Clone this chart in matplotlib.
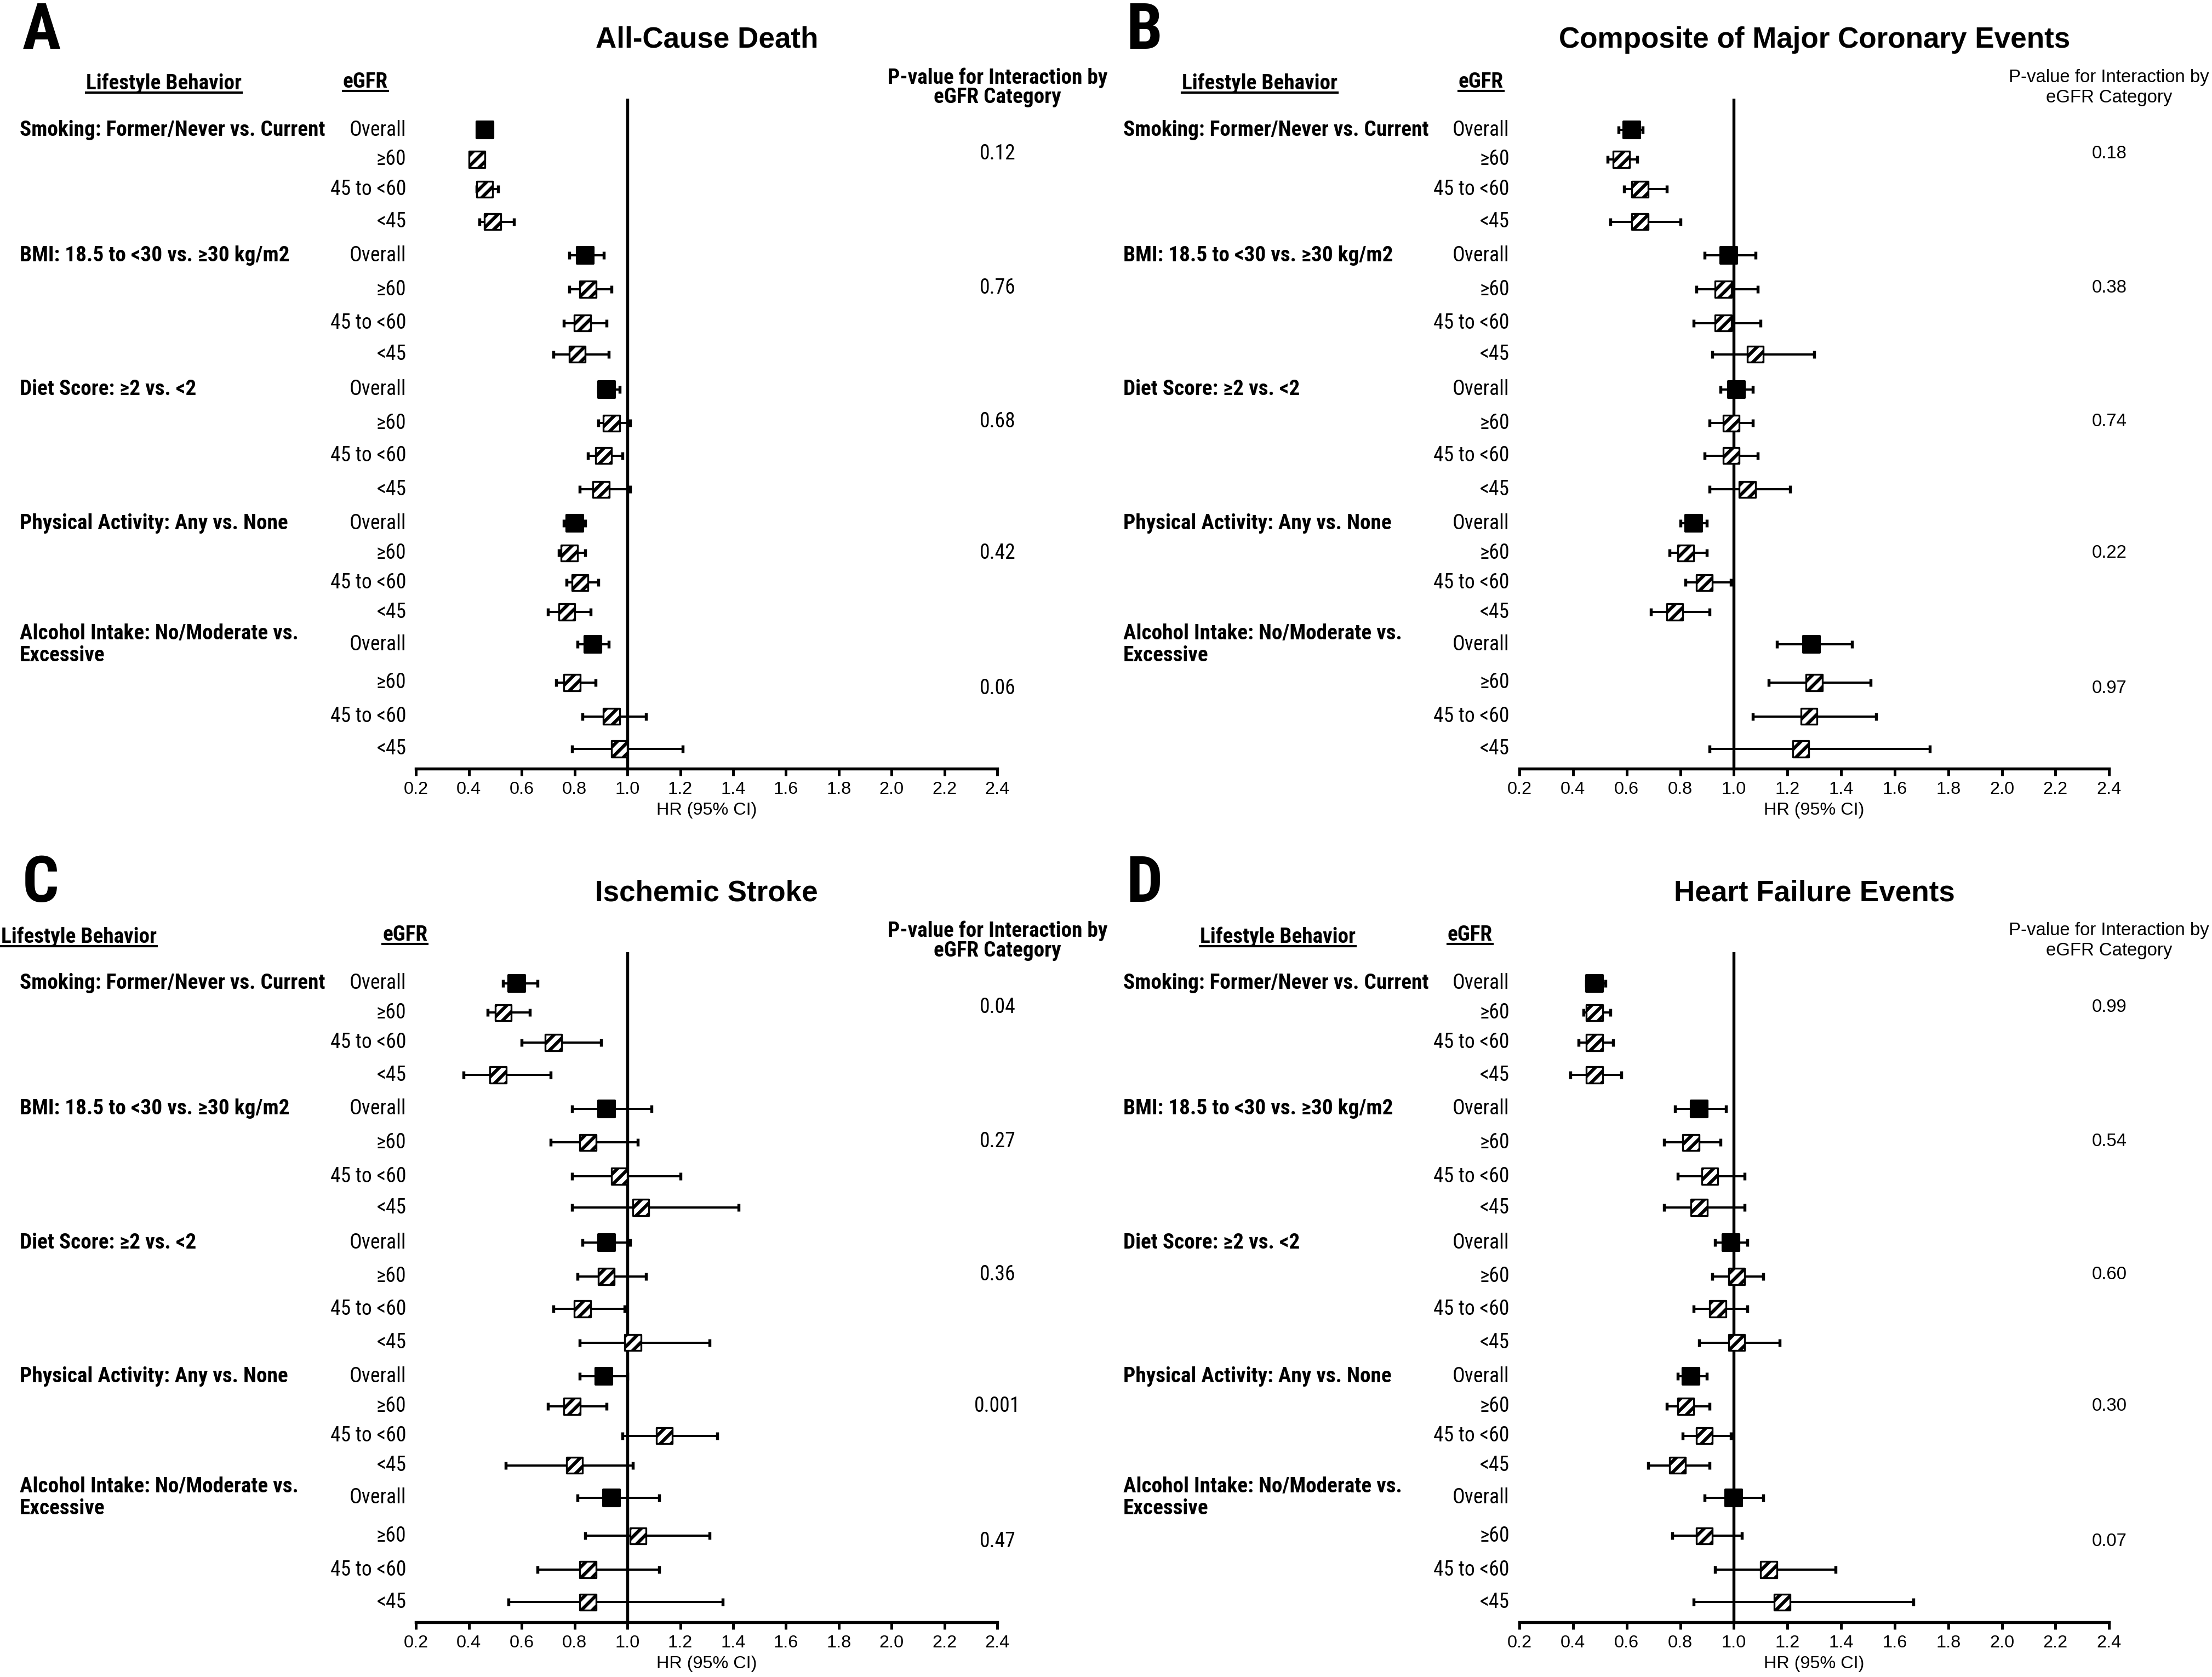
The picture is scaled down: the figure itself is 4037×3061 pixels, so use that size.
import numpy as np
import matplotlib
matplotlib.use('Agg')
import matplotlib.pyplot as plt
from matplotlib import font_manager
from matplotlib.lines import Line2D
from matplotlib.transforms import blended_transform_factory

plt.rcParams['hatch.linewidth'] = 1.45

WEIGHTS = {}
for f in font_manager.fontManager.ttflist:
    w = f.weight if isinstance(f.weight, int) else font_manager.weight_dict.get(f.weight, 400)
    WEIGHTS.setdefault(f.name, set()).add(w)


def pick(cands, bold=False):
    '''first installed family of the list (with a real bold face if asked)'''
    for c in cands:
        if c in WEIGHTS and (not bold or max(WEIGHTS[c]) >= 600):
            return c
    return 'DejaVu Sans'


NARROW_CANDS = ['Liberation Sans Narrow', 'Arial Narrow', 'Archivo Narrow', 'Roboto Condensed',
                'PT Sans Narrow', 'Fira Sans Condensed', 'IBM Plex Sans Condensed',
                'Encode Sans Condensed', 'Asap Condensed', 'Barlow Condensed',
                'Sofia Sans Condensed', 'Pragati Narrow', 'Liberation Sans']
NARROW_B = [pick(NARROW_CANDS, bold=True), 'DejaVu Sans']
NARROW = [NARROW_B[0] if min(WEIGHTS.get(NARROW_B[0], {400})) <= 400 else pick(NARROW_CANDS),
          'DejaVu Sans']
PLAIN = [pick(['Liberation Sans', 'Arimo', 'Arial', 'Helvetica', 'Roboto']), 'DejaVu Sans']

# ---- data ----
OUTCOMES = ['All-Cause Death', 'Composite of Major Coronary Events',
            'Ischemic Stroke', 'Heart Failure Events']
BEHAVIORS = ['Smoking: Former/Never vs. Current',
             'BMI: 18.5 to <30 vs. \u226530 kg/m2',
             'Diet Score: \u22652 vs. <2',
             'Physical Activity: Any vs. None',
             'Alcohol Intake: No/Moderate vs.\nExcessive']
EGFR = ['Overall', '\u226560', '45 to <60', '<45']
TICKS = [0.2, 0.4, 0.6, 0.8, 1.0, 1.2, 1.4, 1.6, 1.8, 2.0, 2.2, 2.4]

death_hr = [0.46, 0.43, 0.46, 0.49, 0.84, 0.85, 0.83, 0.81, 0.92, 0.94, 0.91, 0.90, 0.80, 0.78, 0.82, 0.77, 0.87, 0.79, 0.94, 0.97]
death_lo = [0.44, 0.42, 0.43, 0.44, 0.78, 0.78, 0.76, 0.72, 0.89, 0.89, 0.85, 0.82, 0.76, 0.74, 0.77, 0.70, 0.81, 0.73, 0.83, 0.79]
death_hi = [0.48, 0.45, 0.51, 0.57, 0.91, 0.94, 0.92, 0.93, 0.97, 1.01, 0.98, 1.01, 0.84, 0.84, 0.89, 0.86, 0.93, 0.88, 1.07, 1.21]
death_p = ['0.12', '0.76', '0.68', '0.42', '0.06']

chd_hr = [0.62, 0.58, 0.65, 0.65, 0.98, 0.96, 0.96, 1.08, 1.01, 0.99, 0.99, 1.05, 0.85, 0.82, 0.89, 0.78, 1.29, 1.30, 1.28, 1.25]
chd_lo = [0.57, 0.53, 0.59, 0.54, 0.89, 0.86, 0.85, 0.92, 0.95, 0.91, 0.89, 0.91, 0.80, 0.76, 0.82, 0.69, 1.16, 1.13, 1.07, 0.91]
chd_hi = [0.66, 0.64, 0.75, 0.80, 1.08, 1.09, 1.10, 1.30, 1.07, 1.07, 1.09, 1.21, 0.90, 0.90, 0.99, 0.91, 1.44, 1.51, 1.53, 1.73]
chd_p = ['0.18', '0.38', '0.74', '0.22', '0.97']

stroke_hr = [0.58, 0.53, 0.72, 0.51, 0.92, 0.85, 0.97, 1.05, 0.92, 0.92, 0.83, 1.02, 0.91, 0.79, 1.14, 0.80, 0.94, 1.04, 0.85, 0.85]
stroke_lo = [0.53, 0.47, 0.60, 0.38, 0.79, 0.71, 0.79, 0.79, 0.83, 0.81, 0.72, 0.82, 0.82, 0.70, 0.98, 0.54, 0.81, 0.84, 0.66, 0.55]
stroke_hi = [0.66, 0.63, 0.90, 0.71, 1.09, 1.04, 1.20, 1.42, 1.01, 1.07, 0.99, 1.31, 1.00, 0.92, 1.34, 1.02, 1.12, 1.31, 1.12, 1.36]
stroke_p = ['0.04', '0.27', '0.36', '0.001', '0.47']

hf_hr = [0.48, 0.48, 0.48, 0.48, 0.87, 0.84, 0.91, 0.87, 0.99, 1.01, 0.94, 1.01, 0.84, 0.82, 0.89, 0.79, 1.00, 0.89, 1.13, 1.18]
hf_lo = [0.45, 0.44, 0.42, 0.39, 0.78, 0.74, 0.79, 0.74, 0.93, 0.92, 0.85, 0.87, 0.79, 0.75, 0.81, 0.68, 0.89, 0.77, 0.93, 0.85]
hf_hi = [0.52, 0.54, 0.55, 0.58, 0.97, 0.95, 1.04, 1.04, 1.05, 1.11, 1.05, 1.17, 0.90, 0.91, 0.99, 0.91, 1.11, 1.03, 1.38, 1.67]
hf_p = ['0.99', '0.54', '0.60', '0.30', '0.07']

# ---- layout ----
ROW_Y = [0, 0.89, 1.79, 2.77, 3.79, 4.81, 5.83, 6.77, 7.83, 8.85,
         9.83, 10.85, 11.87, 12.77, 13.66, 14.55, 15.53, 16.68, 17.70, 18.68]
P_Y = [0.72, 4.77, 8.8, 12.77, 16.85]

panels = [
    ('A', OUTCOMES[0], death_hr, death_lo, death_hi, death_p,
     [0.1881, 0.5416, 0.2628, 0.3995], dict(beh=-0.682, head=-0.434, eg=-0.087, boldp=True)),
    ('B', OUTCOMES[1], chd_hr, chd_lo, chd_hi, chd_p,
     [0.6869, 0.5416, 0.2666, 0.3995], dict(beh=-0.672, head=-0.44, eg=-0.065, boldp=False)),
    ('C', OUTCOMES[2], stroke_hr, stroke_lo, stroke_hi, stroke_p,
     [0.1881, 0.0328, 0.2628, 0.3995], dict(beh=-0.682, head=-0.58, eg=-0.019, boldp=True)),
    ('D', OUTCOMES[3], hf_hr, hf_lo, hf_hi, hf_p,
     [0.6869, 0.0328, 0.2666, 0.3995], dict(beh=-0.672, head=-0.41, eg=-0.084, boldp=False)),
]

fig = plt.figure(figsize=(4037 / 300, 3061 / 300), dpi=300)
renderer = fig.canvas.get_renderer()


def fit_size(text, target_px, family, weight='normal'):
    '''font size giving the text the width (in pixels) seen in the reference'''
    t = fig.text(0, 0, text, fontsize=10, family=family, fontweight=weight)
    w = t.get_window_extent(renderer=renderer).width
    t.remove()
    return 10 * target_px / w


FS_BEH = fit_size('Smoking: Former/Never vs. Current', 559, NARROW_B, 'bold')
FS_EG = fit_size('45 to <60', 138, NARROW)
FS_PLAIN = fit_size('P-value for Interaction by', 365, PLAIN)
FS_TICK = fit_size('HR (95% CI)', 184, PLAIN)
FS_TITLE = fit_size('All-Cause Death', 407, PLAIN, 'bold')
FS_LETTER = fit_size('A', 70, NARROW_B, 'bold')

underlined = []

for letter, title, hr, lo, hi, pv, rect, lay in panels:
    ax = fig.add_axes(rect)
    hr, lo, hi = np.array(hr), np.array(lo), np.array(hi)
    y = np.array(ROW_Y)
    ax.errorbar(hr, y, xerr=[hr - lo, hi - hr], fmt='none', ecolor='black',
                elinewidth=0.95, capsize=1.7, capthick=1.3, zorder=2)
    overall = np.arange(len(hr)) % 4 == 0
    ax.scatter(hr[overall], y[overall], marker='s', s=52, color='black', zorder=3)
    ax.scatter(hr[~overall], y[~overall], marker='s', s=50, facecolor='white',
               edgecolor='black', linewidth=0.8, hatch='/////', zorder=3)
    ax.axvline(1.0, color='black', lw=1.3, zorder=1)

    ax.set_xlim(0.2, 2.4)
    ax.set_ylim(19.28, -0.94)
    for s in ('left', 'right', 'top'):
        ax.spines[s].set_visible(False)
    ax.spines['bottom'].set_linewidth(1.3)
    ax.set_yticks([])
    ax.set_xticks(TICKS)
    ax.set_xticklabels(['%.1f' % t for t in TICKS], fontsize=FS_TICK, family=PLAIN)
    ax.tick_params(axis='x', direction='out', length=3, width=1.2, pad=2.5)
    ax.set_xlabel('HR (95% CI)', fontsize=FS_TICK, family=PLAIN, labelpad=2)

    tr = blended_transform_factory(ax.transAxes, ax.transData)
    kw = dict(transform=tr, clip_on=False)
    ax.text(lay['beh'] + 0.005, -2.98, letter, fontsize=FS_LETTER, fontweight='bold',
            family=NARROW_B, ha='left', va='center', **kw)
    ax.text(0.5, -2.72, title, fontsize=FS_TITLE, fontweight='bold', family=PLAIN,
            ha='center', va='center', **kw)
    underlined.append(ax.text(lay['head'], -1.40, 'Lifestyle Behavior', fontsize=FS_BEH,
                              fontweight='bold', family=NARROW_B, ha='center', va='center', **kw))
    underlined.append(ax.text(lay['eg'], -1.45, 'eGFR', fontsize=FS_BEH, fontweight='bold',
                              family=NARROW_B, ha='center', va='center', **kw))
    if lay['boldp']:
        ax.text(1.0, -1.28, 'P-value for Interaction by\neGFR Category', fontsize=FS_BEH,
                fontweight='bold', family=NARROW_B, ha='center', va='center',
                linespacing=0.95, **kw)
    else:
        ax.text(1.0, -1.28, 'P-value for Interaction by\neGFR Category', fontsize=FS_PLAIN,
                family=PLAIN, ha='center', va='center', linespacing=1.25, **kw)

    for i, beh in enumerate(BEHAVIORS):
        ax.text(lay['beh'], ROW_Y[4 * i], beh, fontsize=FS_BEH, fontweight='bold',
                family=NARROW_B, ha='left', va='center', linespacing=1.1, **kw)
    for j, yy in enumerate(ROW_Y):
        ax.text(-0.017, yy, EGFR[j % 4], fontsize=FS_EG, family=NARROW,
                ha='right', va='center', **kw)
    for p, yy in zip(pv, P_Y):
        if lay['boldp']:
            ax.text(1.0, yy, p, fontsize=FS_EG, family=NARROW, ha='center', va='center', **kw)
        else:
            ax.text(1.0, yy, p, fontsize=FS_PLAIN, family=PLAIN, ha='center', va='center', **kw)

# underline the column headers
fig.canvas.draw()
r = fig.canvas.get_renderer()
for t in underlined:
    bb = t.get_window_extent(renderer=r)
    fig.add_artist(Line2D([bb.x0, bb.x1], [bb.y0 + 2, bb.y0 + 2], lw=1.0, color='black',
                          transform=None))

fig.savefig('out.png', dpi=300, facecolor='white')
